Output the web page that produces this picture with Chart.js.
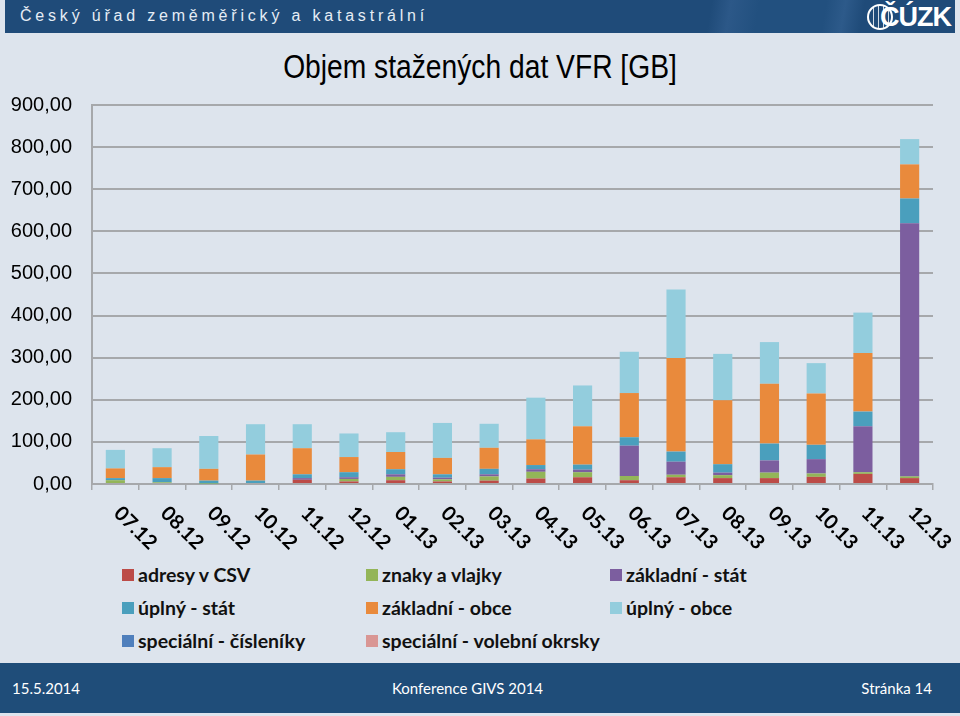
<!DOCTYPE html>
<html>
<head>
<meta charset="utf-8">
<script src="https://cdn.jsdelivr.net/npm/chart.js@4.4.1/dist/chart.umd.min.js"></script>
<style>
  html, body { margin: 0; padding: 0; }
  body { width: 960px; height: 716px; background: #dde4ed; position: relative; overflow: hidden; font-family: Lato, "Open Sans", sans-serif; }
  #header { position: absolute; left: 5px; top: 0; width: 950px; height: 33px;
    background: linear-gradient(100deg, #1f4b79 0%, #1f4b79 74%, #2c5888 76%, #22507f 79%, #22507f 86%, #2d5a8a 88%, #1f4b79 90%); }
  #header .name { position: absolute; left: 15px; top: 7px; color: #e6edf5; font-family: "Liberation Sans", sans-serif; font-size: 16px; letter-spacing: 3.8px; }
  #header .logo { position: absolute; right: 4px; top: 2px; color: #fff; font-family: "Liberation Sans", sans-serif; font-weight: bold; font-size: 27px; letter-spacing: -1px; }
  #header .globe { position: absolute; right: 62px; top: 4px; width: 22px; height: 22px; border: 2px solid #fff; border-radius: 50%;
    background: repeating-linear-gradient(90deg, transparent 0 4px, rgba(255,255,255,0.8) 4px 5px); }
  #title { position: absolute; left: 0; width: 960px; top: 47px; text-align: center; font-family: "Liberation Sans", Arial, sans-serif; font-size: 34px; color: #000; transform: scaleX(0.83); transform-origin: 480px 0; }
  #chart { position: absolute; left: 0; top: 0; }
  #legend { position: absolute; left: 0; top: 0; }
  .item { position: absolute; font-weight: bold; font-size: 19.5px; color: #111; white-space: nowrap; line-height: 20px; }
  .item i { position: absolute; left: -16px; top: 4px; width: 12px; height: 12px; }
  #footer { position: absolute; left: 0; top: 663px; width: 960px; height: 50px; background: #1f4d79; color: #fff; font-size: 15px; }
  #footer span { position: absolute; top: 16px; }
</style>
</head>
<body>
<div id="header">
  <div class="name">Český úřad zeměměřický a katastrální</div>
  <div class="globe"></div>
  <div class="logo">ČÚZK</div>
</div>
<div id="title">Objem stažených dat VFR [GB]</div>
<canvas id="chart" width="960" height="560"></canvas>
<div id="legend"></div>
<div id="footer">
  <span style="left:12px">15.5.2014</span>
  <span style="left:0;width:935px;text-align:center">Konference GIVS 2014</span>
  <span style="right:28px">Stránka 14</span>
</div>
<script>
const months = ['07.12', '08.12', '09.12', '10.12', '11.12', '12.12', '01.13', '02.13', '03.13',
    '04.13', '05.13', '06.13', '07.13', '08.13', '09.13', '10.13', '11.13', '12.13'];

const adresyCsv = [0, 0, 0, 0, 10, 6, 9, 6, 8, 13, 16, 9, 16, 14, 14, 17, 24, 14];
const znakyVlajky = [9, 4, 1, 0, 0, 6, 8, 5, 10, 16, 12, 10, 6, 7, 13, 8, 4, 4];
const zakladniStat = [0, 0, 0, 0, 4, 4, 6, 4, 5, 6, 6, 72, 31, 6, 29, 34, 109, 601];
const uplnyStat = [5, 10, 7, 8, 9, 12, 12, 8, 13, 10, 12, 20, 24, 20, 40, 34, 35, 59];
const zakladniObce = [23, 26, 28, 62, 62, 36, 41, 39, 50, 61, 91, 105, 222, 152, 142, 122, 139, 81];
const uplnyObce = [44, 45, 78, 72, 57, 56, 47, 83, 57, 99, 97, 98, 163, 110, 99, 72, 96, 60];
const specialniCiselniky = [0, 0, 0, 0, 0, 0, 0, 0, 0, 0, 0, 0, 0, 0, 0, 0, 0, 0];
const specialniVolebni = [0, 0, 0, 0, 0, 0, 0, 0, 0, 0, 0, 0, 0, 0, 0, 0, 0, 0];

const seriesNames = ['adresy v CSV', 'znaky a vlajky', 'základní - stát', 'úplný - stát',
    'základní - obce', 'úplný - obce', 'speciální - čísleníky', 'speciální - volební okrsky'];
const seriesData = [adresyCsv, znakyVlajky, zakladniStat, uplnyStat, zakladniObce, uplnyObce, specialniCiselniky, specialniVolebni];
const seriesColors = ['#bc4b47', '#93b558', '#7c5e9f', '#4a9fbd', '#e98a3c', '#93cddd', '#4f7fbc', '#d99694'];

const gridColor = '#a6a8ab';

// legend in 3 columns, same order as datasets
const legendPos = [[138, 565], [382, 565], [626, 565], [138, 598], [382, 598], [626, 598], [138, 631], [382, 631]];
const legend = document.getElementById('legend');
seriesNames.forEach((name, i) => {
    const el = document.createElement('div');
    el.className = 'item';
    el.style.left = legendPos[i][0] + 'px';
    el.style.top = legendPos[i][1] + 'px';
    el.innerHTML = '<i style="background:' + seriesColors[i] + '"></i>' + name;
    legend.appendChild(el);
});

// x labels slanted downwards to the right
const slantedLabels = {
    id: 'slantedLabels',
    afterDraw(chart) {
        const ctx = chart.ctx;
        const xs = chart.scales.x;
        ctx.save();
        ctx.font = 'bold 20px Lato';
        ctx.fillStyle = '#000';
        ctx.textAlign = 'left';
        ctx.textBaseline = 'middle';
        months.forEach((m, i) => {
            ctx.save();
            ctx.translate(xs.getPixelForValue(i) + 2, xs.top + 26);
            ctx.rotate(Math.PI / 4);
            ctx.fillText(m, 0, 0);
            ctx.restore();
        });
        ctx.restore();
    }
};

new Chart(document.getElementById('chart').getContext('2d'), {
    type: 'bar',
    data: {
        labels: months,
        datasets: seriesNames.map((name, i) => ({
            label: name,
            data: seriesData[i],
            backgroundColor: seriesColors[i],
            borderWidth: 0,
            categoryPercentage: 1,
            barPercentage: 0.41
        }))
    },
    options: {
        responsive: false,
        animation: false,
        layout: { padding: { left: 0, right: 27, top: 105, bottom: 0 } },
        plugins: { legend: { display: false }, title: { display: false }, tooltip: { enabled: false } },
        scales: {
            x: {
                stacked: true,
                ticks: { display: false },
                grid: { offset: true, drawOnChartArea: false, drawTicks: true, tickLength: 6, color: gridColor, lineWidth: 1.5 },
                border: { display: true, color: gridColor, width: 2 },
                afterFit: (scale) => { scale.height = 76; }
            },
            y: {
                stacked: true,
                min: 0,
                max: 900,
                ticks: {
                    stepSize: 100,
                    padding: 20,
                    color: '#000',
                    font: { family: 'Liberation Sans', size: 20 },
                    callback: (v) => v.toFixed(2).replace('.', ',')
                },
                grid: { color: gridColor, lineWidth: 2, drawTicks: false },
                border: { display: true, color: gridColor, width: 2 },
                afterFit: (scale) => { scale.width = 92; }
            }
        }
    },
    plugins: [slantedLabels]
});
</script>
</body>
</html>
